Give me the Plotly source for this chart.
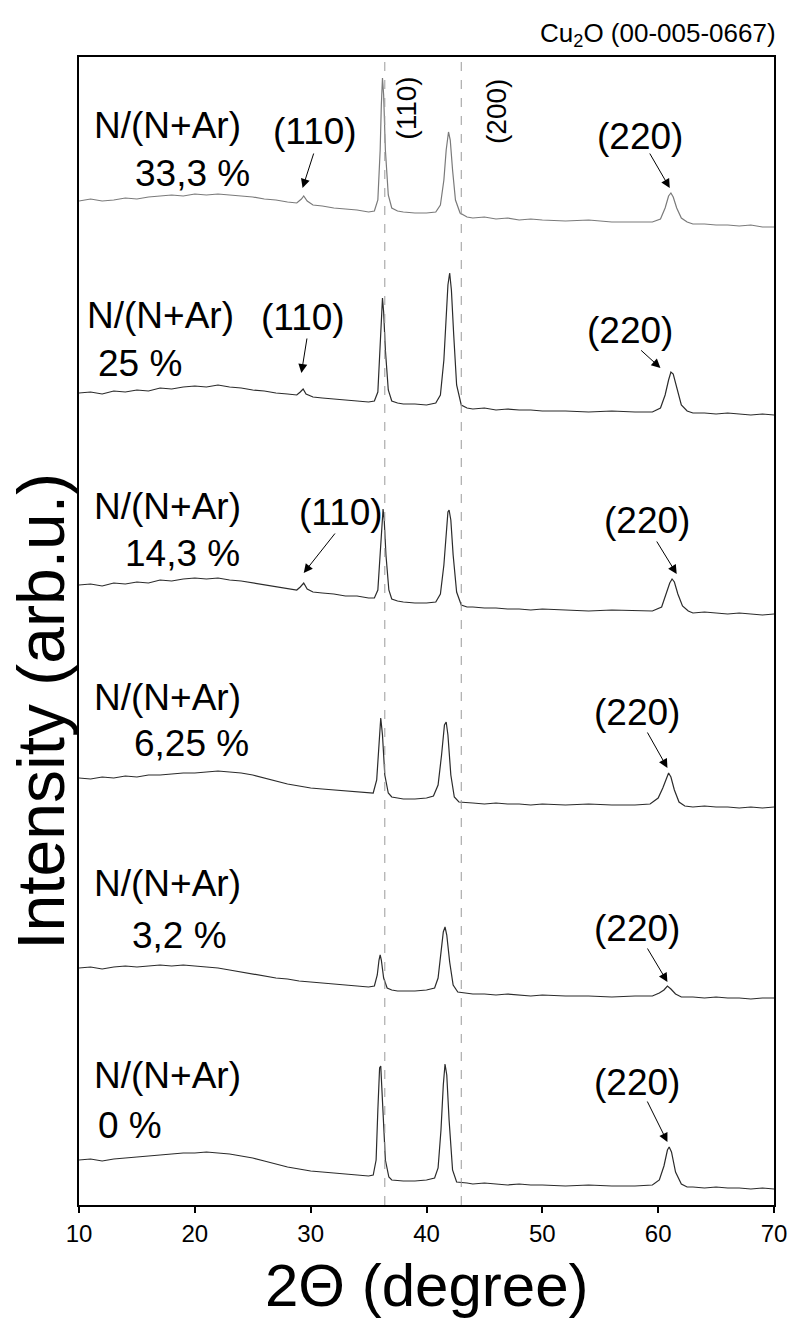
import plotly.graph_objects as go

# ---- data: 2-theta positions and stacked XRD intensities (arb. units, offset per sample) ----
REF = 1205  # stacking reference level (intensity = REF - reading)

x_333 = [10, 11, 12, 13, 14, 15, 16, 17, 18, 19, 20, 21, 22, 23, 24, 25, 26, 27, 28, 28.8, 29.2, 29.4, 29.7, 30.2, 31, 32, 33, 34, 35, 35.5, 35.8, 36.0, 36.1, 36.2, 36.3, 36.45, 36.7, 37.0, 37.5, 38, 39, 40, 40.8, 41.2, 41.5, 41.7, 41.9, 42.05, 42.25, 42.5, 42.9, 43.5, 44, 45, 46, 47, 48, 49, 50, 52, 54, 56, 58, 59.5, 60.2, 60.6, 60.9, 61.1, 61.3, 61.6, 62.0, 62.5, 63, 64, 65, 66, 67, 68, 69, 70]
r_333 = [201, 199, 201, 200, 198, 199, 197, 196, 195, 196, 194, 195, 194, 195, 196, 197, 199, 200, 202, 203, 199, 196, 201, 205, 206, 208, 209, 210, 212, 211, 200, 150, 105, 78, 95, 150, 195, 208, 211, 212, 213, 213, 212, 205, 180, 150, 132, 140, 170, 200, 213, 217, 218, 217, 219, 218, 220, 219, 220, 221, 220, 222, 222, 222, 219, 208, 196, 193, 197, 208, 218, 222, 224, 224, 225, 225, 226, 225, 227, 227]

x_25 = [10, 11, 12, 13, 14, 15, 16, 17, 18, 19, 20, 21, 22, 23, 24, 25, 26, 27, 28, 28.8, 29.1, 29.35, 29.6, 30.2, 31, 32, 33, 34, 35, 35.5, 35.8, 36.0, 36.1, 36.2, 36.3, 36.45, 36.7, 37.0, 37.5, 38, 39, 40, 40.8, 41.2, 41.5, 41.7, 41.85, 42.0, 42.15, 42.35, 42.6, 43.0, 43.5, 44, 45, 46, 47, 48, 49, 50, 52, 54, 56, 58, 59.5, 60.2, 60.6, 60.9, 61.1, 61.3, 61.6, 62.0, 62.5, 63, 64, 65, 66, 67, 68, 69, 70]
r_25 = [393, 392, 394, 391, 392, 390, 391, 388, 389, 387, 386, 387, 385, 387, 388, 390, 391, 393, 394, 395, 392, 389, 394, 397, 398, 399, 400, 401, 402, 401, 392, 345, 315, 298, 312, 350, 390, 401, 403, 404, 404, 405, 403, 395, 360, 315, 285, 273, 290, 335, 385, 405, 408, 409, 408, 410, 409, 410, 410, 411, 411, 412, 411, 412, 412, 408, 395, 380, 372, 374, 388, 405, 411, 413, 413, 414, 413, 414, 415, 414, 415]

x_143 = [10, 11, 12, 13, 14, 15, 16, 17, 18, 19, 20, 21, 22, 23, 24, 25, 26, 27, 28, 28.8, 29.1, 29.4, 29.7, 30.2, 31, 32, 33, 34, 35, 35.5, 35.8, 36.0, 36.15, 36.25, 36.35, 36.5, 36.75, 37.0, 37.5, 38, 39, 40, 40.8, 41.2, 41.5, 41.7, 41.85, 41.95, 42.1, 42.3, 42.6, 43.0, 43.5, 44, 45, 46, 47, 48, 49, 50, 52, 54, 56, 58, 59.5, 60.3, 60.7, 61.0, 61.2, 61.4, 61.7, 62.1, 62.6, 63, 64, 65, 66, 67, 68, 69, 70]
r_143 = [585, 584, 586, 583, 584, 582, 583, 580, 581, 579, 578, 579, 578, 580, 581, 583, 585, 587, 589, 590, 587, 583, 589, 592, 593, 594, 596, 596, 598, 598, 590, 550, 520, 509, 520, 555, 590, 599, 601, 602, 603, 603, 602, 594, 565, 530, 512, 510, 520, 555, 592, 605, 607, 607, 608, 608, 609, 609, 610, 609, 610, 611, 610, 611, 611, 607, 594, 583, 579, 582, 594, 606, 611, 613, 612, 613, 614, 613, 614, 615, 614]

x_625 = [10, 11, 12, 13, 14, 15, 16, 17, 18, 19, 20, 21, 22, 23, 24, 25, 26, 27, 28, 29, 30, 31, 32, 33, 34, 35, 35.4, 35.7, 35.9, 36.05, 36.2, 36.4, 36.7, 37.0, 37.5, 38, 39, 40, 40.6, 41.0, 41.3, 41.55, 41.7, 41.85, 42.1, 42.4, 42.8, 43.5, 44, 45, 46, 47, 48, 49, 50, 52, 54, 56, 58, 59.3, 60.0, 60.4, 60.75, 60.9, 61.1, 61.4, 61.8, 62.3, 63, 64, 65, 66, 67, 68, 69, 70]
r_625 = [778, 779, 777, 778, 776, 777, 775, 775, 774, 773, 773, 772, 771, 772, 773, 775, 778, 781, 784, 786, 788, 789, 790, 791, 792, 793, 793, 780, 740, 718, 735, 775, 793, 797, 798, 799, 799, 798, 796, 785, 755, 725, 722, 735, 775, 797, 802, 803, 803, 804, 803, 804, 804, 805, 804, 805, 804, 805, 805, 804, 798, 788, 776, 773, 777, 790, 802, 806, 807, 806, 807, 807, 808, 807, 808, 807]

x_32 = [10, 11, 12, 13, 14, 15, 16, 17, 18, 19, 20, 21, 22, 23, 24, 25, 26, 27, 28, 29, 30, 31, 32, 33, 34, 35, 35.5, 35.75, 35.9, 36.0, 36.1, 36.3, 36.6, 37, 37.5, 38, 39, 40, 40.7, 41.0, 41.25, 41.45, 41.6, 41.75, 42.0, 42.3, 42.7, 43.5, 44, 45, 46, 47, 48, 49, 50, 52, 54, 56, 58, 59.5, 60.1, 60.5, 60.8, 61.1, 61.5, 62, 63, 64, 65, 66, 67, 68, 69, 70]
r_32 = [968, 967, 969, 967, 966, 967, 966, 965, 966, 965, 966, 967, 968, 970, 972, 974, 976, 978, 979, 981, 982, 983, 984, 985, 986, 987, 986, 975, 960, 955, 960, 978, 988, 990, 991, 991, 991, 990, 988, 978, 955, 932, 927, 935, 962, 985, 992, 993, 994, 994, 995, 994, 995, 996, 995, 996, 996, 997, 996, 996, 993, 990, 986, 989, 994, 997, 997, 998, 997, 998, 998, 999, 998, 998]

x_0 = [10, 11, 12, 13, 14, 15, 16, 17, 18, 19, 20, 21, 22, 23, 24, 25, 26, 27, 28, 29, 30, 31, 32, 33, 34, 35, 35.4, 35.65, 35.8, 35.95, 36.05, 36.2, 36.45, 36.75, 37.0, 38, 39, 40, 40.7, 41.0, 41.25, 41.45, 41.6, 41.75, 41.95, 42.25, 42.6, 43.5, 44, 45, 46, 47, 48, 49, 50, 52, 54, 56, 58, 59.5, 60.1, 60.5, 60.8, 60.95, 61.15, 61.5, 62, 62.5, 63, 64, 65, 66, 67, 68, 69, 70]
r_0 = [1160, 1159, 1161, 1159, 1158, 1157, 1156, 1155, 1154, 1153, 1153, 1152, 1153, 1154, 1156, 1158, 1161, 1164, 1167, 1169, 1171, 1172, 1173, 1174, 1175, 1176, 1175, 1160, 1110, 1068, 1066, 1100, 1160, 1177, 1180, 1181, 1181, 1180, 1178, 1168, 1130, 1085, 1064, 1075, 1120, 1170, 1182, 1183, 1184, 1183, 1184, 1185, 1184, 1185, 1185, 1186, 1185, 1186, 1186, 1185, 1180, 1166, 1150, 1147, 1152, 1172, 1184, 1187, 1187, 1188, 1187, 1188, 1188, 1189, 1188, 1189]

samples = ["33,3 %", "25 %", "14,3 %", "6,25 %", "3,2 %", "0 %"]
series_x = [x_333, x_25, x_143, x_625, x_32, x_0]
series_r = [r_333, r_25, r_143, r_625, r_32, r_0]
line_colors = ["#7a7a7a", "#2b2b2b", "#2b2b2b", "#2b2b2b", "#2b2b2b", "#2b2b2b"]

ref_lines = [36.4, 43.0]          # Cu2O reference positions (dashed)
ref_labels = ["(110)", "(200)"]
x_ticks = [10, 20, 30, 40, 50, 60, 70]

FONT = "Liberation Sans, Arial, sans-serif"
LBL = 37

def iy(v):
    return REF - v

fig = go.Figure()
for xs, rs, c, name in zip(series_x, series_r, line_colors, samples):
    fig.add_trace(go.Scatter(x=xs, y=[iy(v) for v in rs], mode="lines",
                             line=dict(color=c, width=1.2), name=name, showlegend=False))

for xv in ref_lines:
    fig.add_shape(type="line", x0=xv, x1=xv, y0=0, y1=1, xref="x", yref="paper",
                  line=dict(color="#9a9a9a", width=1, dash="dash"))

ann = []
def txt(x, y, s, size=LBL, angle=0):
    ann.append(dict(x=x, y=iy(y), xref="x", yref="y", text=s, showarrow=False,
                    font=dict(family=FONT, size=size, color="black"), textangle=angle))

def arrow(x0, y0, x1, y1):
    ann.append(dict(x=x1, y=iy(y1), ax=x0, ay=iy(y0), xref="x", yref="y", axref="x", ayref="y",
                    text="", showarrow=True, arrowhead=2, arrowsize=1.8, arrowwidth=1,
                    arrowcolor="black"))

# sample labels
lab_pos = [(17.6, 125, 19.8, 173), (17.0, 315, 15.3, 363), (17.6, 506, 18.9, 553),
           (17.6, 697, 19.7, 743), (17.6, 883, 18.7, 935), (17.6, 1075, 14.4, 1125)]
for (nx, ny, px, py), s in zip(lab_pos, samples):
    txt(nx, ny, "N/(N+Ar)")
    txt(px, py, s)

# (110) labels with arrows
txt(30.4, 131, "(110)"); arrow(30.3, 152, 29.3, 188)
txt(29.3, 317, "(110)"); arrow(29.7, 337, 29.2, 373)
txt(32.6, 512, "(110)"); arrow(32.2, 532, 29.4, 573)

# (220) labels with arrows
p220 = [(58.4, 136, 152, 188), (57.6, 330, 349, 368), (59.0, 520, 540, 574),
        (58.2, 712, 731, 768), (58.2, 928, 947, 982), (58.2, 1082, 1100, 1142)]
for (tx, ty, ay0, ay1) in p220:
    txt(tx, ty, "(220)")
    arrow(tx + 0.8, ay0, tx + 2.6, ay1)

# rotated reference labels
txt(38.2, 108, ref_labels[0], size=28, angle=-90)
txt(46.0, 112, ref_labels[1], size=28, angle=-90)

ann.append(dict(x=1, y=1, xref="paper", yref="paper", xanchor="right", yanchor="bottom",
                xshift=4, yshift=4, text="Cu<sub>2</sub>O (00-005-0667)", showarrow=False,
                font=dict(family=FONT, size=26, color="black")))
ann.append(dict(x=-0.054, y=0.43, xref="paper", yref="paper", xanchor="center", yanchor="middle",
                text="Intensity (arb.u.)", textangle=-90, showarrow=False,
                font=dict(family=FONT, size=66, color="black")))
ann.append(dict(x=0.5, y=-0.07, xref="paper", yref="paper", xanchor="center", yanchor="middle",
                text="2\u0398 (degree)", showarrow=False,
                font=dict(family=FONT, size=60, color="black")))

fig.update_layout(
    width=799, height=1322,
    margin=dict(l=79, r=20, t=57, b=117),
    paper_bgcolor="white", plot_bgcolor="white",
    annotations=ann,
    font=dict(family=FONT, color="black"),
    xaxis=dict(range=[10, 70], tickvals=x_ticks, ticks="outside", ticklen=6, tickwidth=1.5,
               tickcolor="black", showgrid=False, zeroline=False, showline=True,
               linecolor="black", linewidth=2, mirror=True,
               tickfont=dict(family=FONT, size=24, color="black")),
    yaxis=dict(range=[0, REF - 57], showticklabels=False, ticks="", showgrid=False,
               zeroline=False, showline=True, linecolor="black", linewidth=2, mirror=True),
)

fig.write_html("out.html")
